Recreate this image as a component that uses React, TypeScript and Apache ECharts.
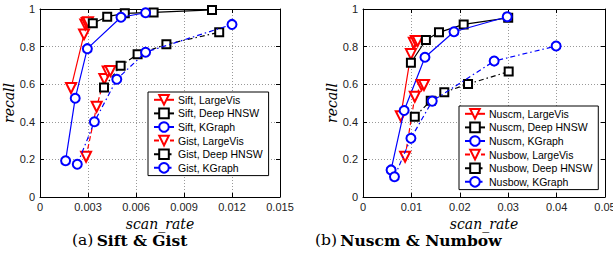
import React, { useEffect, useRef } from "react";
import * as echarts from "echarts";

// ---- Data (scan_rate, recall) ----
const siftLargeVis = [[0.00194, 0.58], [0.00275, 0.865], [0.00283, 0.918], [0.00292, 0.925], [0.003, 0.93]];
const siftDeepHNSW = [[0.0033, 0.924], [0.0042, 0.959], [0.0053, 0.977], [0.0071, 0.982], [0.01075, 0.995]];
const siftKGraph = [[0.0016, 0.193], [0.0022, 0.525], [0.00296, 0.789], [0.00506, 0.956], [0.0066, 0.98]];
const gistLargeVis = [[0.00288, 0.214], [0.00354, 0.48], [0.00402, 0.628], [0.00423, 0.667], [0.0044, 0.67]];
const gistDeepHNSW = [[0.004, 0.583], [0.00504, 0.698], [0.0061, 0.759], [0.0079, 0.812], [0.0112, 0.876]];
const gistKGraph = [[0.00233, 0.174], [0.0034, 0.4], [0.0048, 0.626], [0.0066, 0.77], [0.012, 0.918]];

const nuscmLargeVis = [[0.0078, 0.43], [0.0099, 0.76], [0.0105, 0.82], [0.0109, 0.83], [0.0113, 0.83]];
const nuscmDeepHNSW = [[0.0099, 0.714], [0.013, 0.835], [0.0157, 0.876], [0.0208, 0.918], [0.03, 0.953]];
const nuscmKGraph = [[0.0058, 0.144], [0.0085, 0.46], [0.0128, 0.743], [0.0188, 0.879], [0.0298, 0.959]];
const nusbowLargeVis = [[0.0087, 0.214], [0.0107, 0.533], [0.0121, 0.596], [0.0126, 0.596]];
const nusbowDeepHNSW = [[0.0107, 0.427], [0.014, 0.512], [0.0168, 0.557], [0.0217, 0.601], [0.0301, 0.667]];
const nusbowKGraph = [[0.0065, 0.108], [0.0099, 0.312], [0.0143, 0.51], [0.0271, 0.723], [0.0399, 0.803]];

const leftNames = ["Sift, LargeVis", "Sift, Deep HNSW", "Sift, KGraph", "Gist, LargeVis", "Gist, Deep HNSW", "Gist, KGraph"];
const rightNames = ["Nuscm, LargeVis", "Nuscm, Deep HNSW", "Nuscm, KGraph", "Nusbow, LargeVis", "Nusbow, Deep HNSW", "Nusbow, KGraph"];
const captionA = ["(a)", "Sift & Gist"];
const captionB = ["(b)", "Nuscm & Numbow"];

const RED = "#ff0000";
const BLACK = "#000000";
const BLUE = "#0000ff";

export default function App() {
  const ref = useRef<HTMLDivElement>(null);
  useEffect(() => {
    if (!ref.current) return;
    const chart = echarts.init(ref.current, undefined, { renderer: "svg" });

    const kinds = [
      { color: RED, symbol: "emptyTriangle", symbolSize: 10, symbolRotate: 180 },
      { color: BLACK, symbol: "emptyRect", symbolSize: 8, symbolRotate: 0 },
      { color: BLUE, symbol: "emptyCircle", symbolSize: 9, symbolRotate: 0 },
    ];
    const dashes: any[] = ["solid", "solid", "solid", [5, 3], [5, 3, 1.5, 3], [5, 3, 1.5, 3]];

    const mk = (name: string, data: number[][], idx: number, axis: number) => {
      const k = kinds[idx % 3];
      return {
        type: "line",
        name,
        data,
        xAxisIndex: axis,
        yAxisIndex: axis,
        symbol: k.symbol,
        symbolSize: k.symbolSize,
        symbolRotate: k.symbolRotate,
        showSymbol: true,
        color: k.color,
        lineStyle: { color: k.color, width: 1.2, type: dashes[idx] },
        itemStyle: { color: k.color, borderWidth: 1.2 },
        z: 3 + idx,
      };
    };

    const tickFont = { fontFamily: "Liberation Sans, Arial", fontSize: 11, color: "#222" };
    const nameFont = { fontFamily: "DejaVu Serif", fontStyle: "italic", fontSize: 14, color: "#000" };
    const fmt = (v: number) => String(parseFloat(v.toFixed(4)));

    const mkX = (grid: number, max: number, interval: number, pos: "bottom" | "top") => ({
      type: "value",
      gridIndex: grid,
      position: pos,
      min: 0,
      max,
      interval,
      name: pos === "bottom" ? "scan_rate" : "",
      nameLocation: "middle",
      nameGap: 8,
      nameTextStyle: nameFont,
      axisLine: { show: true, onZero: false, lineStyle: { color: "#000", width: 1 } },
      axisTick: { show: true, inside: true, length: 4, lineStyle: { color: "#000" } },
      axisLabel: { show: pos === "bottom", margin: 4, formatter: fmt, ...tickFont, showMaxLabel: true },
      splitLine: { show: pos === "bottom", lineStyle: { color: "#999", type: [1, 2], width: 1 } },
    });
    const mkY = (grid: number, pos: "left" | "right") => ({
      type: "value",
      gridIndex: grid,
      position: pos,
      min: 0,
      max: 1,
      interval: 0.2,
      name: pos === "left" ? "recall" : "",
      nameLocation: "middle",
      nameGap: 24,
      nameRotate: 90,
      nameTextStyle: nameFont,
      axisLine: { show: true, onZero: false, lineStyle: { color: "#000", width: 1 } },
      axisTick: { show: true, inside: true, length: 4, lineStyle: { color: "#000" } },
      axisLabel: { show: pos === "left", margin: 5, formatter: fmt, ...tickFont },
      splitLine: { show: pos === "left", lineStyle: { color: "#999", type: [1, 2], width: 1 } },
    });

    const legendCommon = {
      orient: "vertical",
      backgroundColor: "#fff",
      borderColor: "#000",
      borderWidth: 1,
      borderRadius: 0,
      padding: [2, 6, 2, 5],
      itemGap: 2,
      itemWidth: 20,
      itemHeight: 12,
      textStyle: { fontFamily: "Liberation Sans, Arial", fontSize: 10.5, color: "#000", padding: [0, 0, 0, -1] },
    };

    const series = [
      mk(leftNames[0], siftLargeVis, 0, 0),
      mk(leftNames[1], siftDeepHNSW, 1, 0),
      mk(leftNames[2], siftKGraph, 2, 0),
      mk(leftNames[3], gistLargeVis, 3, 0),
      mk(leftNames[4], gistDeepHNSW, 4, 0),
      mk(leftNames[5], gistKGraph, 5, 0),
      mk(rightNames[0], nuscmLargeVis, 0, 1),
      mk(rightNames[1], nuscmDeepHNSW, 1, 1),
      mk(rightNames[2], nuscmKGraph, 2, 1),
      mk(rightNames[3], nusbowLargeVis, 3, 1),
      mk(rightNames[4], nusbowDeepHNSW, 4, 1),
      mk(rightNames[5], nusbowKGraph, 5, 1),
    ];

    const captionStyle = (x: number, parts: string[]) => ({
      type: "text",
      left: x,
      top: 232,
      style: {
        text: `{n|${parts[0]}} {b|${parts[1]}}`,
        rich: {
          n: { fontFamily: "DejaVu Serif", fontSize: 15.5, fill: "#000" },
          b: { fontFamily: "DejaVu Serif", fontSize: 15.5, fontWeight: "bold", fill: "#000" },
        },
      },
    });

    chart.setOption({
      animation: false,
      backgroundColor: "#fff",
      grid: [
        { left: 40, top: 9, width: 240, height: 188, containLabel: false, outerBoundsMode: "none" },
        { left: 363, top: 9, width: 242, height: 188, containLabel: false, outerBoundsMode: "none" },
      ],
      xAxis: [mkX(0, 0.015, 0.003, "bottom"), mkX(1, 0.05, 0.01, "bottom"), mkX(0, 0.015, 0.003, "top"), mkX(1, 0.05, 0.01, "top")],
      yAxis: [mkY(0, "left"), mkY(1, "left"), mkY(0, "right"), mkY(1, "right")],
      legend: [
        { ...legendCommon, data: leftNames, left: 148, top: 92 },
        { ...legendCommon, data: rightNames, left: 459, top: 106 },
      ],
      series,
      graphic: [captionStyle(72, captionA), captionStyle(315, captionB)],
    });
    return () => chart.dispose();
  }, []);
  return <div ref={ref} style={{ position: "absolute", left: 0, top: 0, width: 613, height: 265 }} />;
}
